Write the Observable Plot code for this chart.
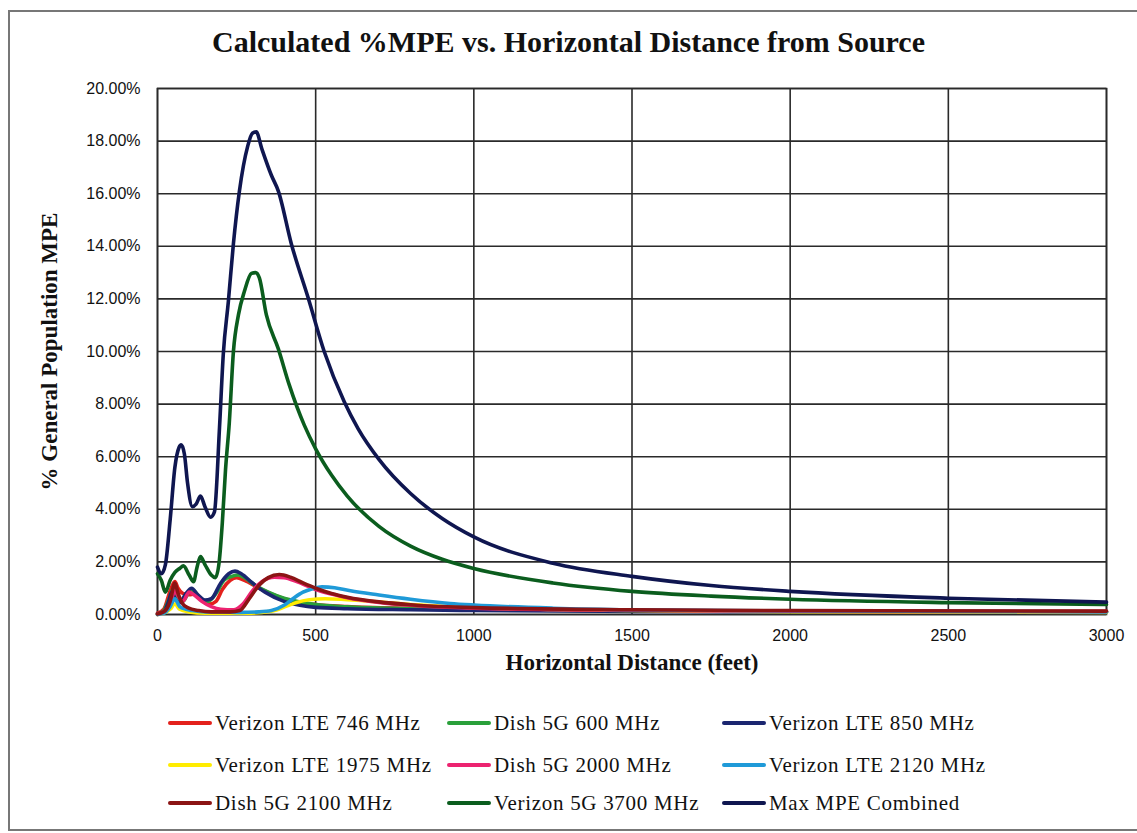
<!DOCTYPE html>
<html><head><meta charset="utf-8">
<script src="https://cdn.jsdelivr.net/npm/d3@7"></script>
<script src="https://cdn.jsdelivr.net/npm/@observablehq/plot@0.6"></script>
<style>
body{margin:0;background:#fff;}
#wrap{position:relative;width:1137px;height:833px;overflow:hidden;background:#fff;}
#border{position:absolute;left:8px;top:10px;width:1140px;height:817px;border-left:2px solid #777;border-top:2px solid #777;border-bottom:2px solid #777;}
#title{position:absolute;top:26px;left:0;width:1137px;text-align:center;font-family:"Liberation Serif",serif;font-weight:bold;font-size:30px;line-height:32px;color:#111;}
#chart{position:absolute;left:0;top:70px;}
.leg{position:absolute;display:flex;align-items:center;font-family:"Liberation Serif",serif;font-size:21px;letter-spacing:0.7px;line-height:24px;color:#111;white-space:nowrap;}
.sw{width:44px;height:4px;border-radius:2px;margin-right:3px;}
</style>
</head><body>
<div id="wrap">
<div id="border"></div>
<div id="title"></div>
<div id="chart"></div>
<div id="legend"></div>
</div>
<script>
const titleText = "Calculated %MPE vs. Horizontal Distance from Source";
const xLabel = "Horizontal Distance (feet)";
const yLabel = "% General Population MPE";
const xTicks = [0, 500, 1000, 1500, 2000, 2500, 3000];
const yTicks = [0, 2, 4, 6, 8, 10, 12, 14, 16, 18, 20];

const seriesNames = ["Verizon LTE 746 MHz","Dish 5G 600 MHz","Verizon LTE 850 MHz","Verizon LTE 1975 MHz","Dish 5G 2000 MHz","Verizon LTE 2120 MHz","Dish 5G 2100 MHz","Verizon 5G 3700 MHz","Max MPE Combined"];
const seriesColors = ["#e3211c","#2aa03a","#1b2670","#ffec00","#ec2370","#1f9ad8","#8b1414","#0b5d1e","#0f1650"];

// [distance ft, % MPE]
const verizon746 = [[0,0.05],[20,0.2],[40,0.9],[55,1.25],[65,1.0],[80,0.8],[100,0.75],[115,0.78],[140,0.55],[165,0.4],[185,0.5],[205,0.95],[230,1.3],[250,1.4],[275,1.3],[320,1.0],[360,0.78],[400,0.6],[450,0.46],[500,0.38],[600,0.3],[800,0.23],[1000,0.19],[1500,0.15],[2000,0.13],[3000,0.11]];
const dish600 = [[0,0.0],[20,0.15],[40,0.7],[50,1.0],[60,0.65],[80,0.5],[100,0.85],[115,0.9],[135,0.6],[160,0.5],[185,0.8],[210,1.3],[235,1.45],[255,1.5],[275,1.4],[310,1.1],[350,0.85],[400,0.62],[450,0.48],[500,0.38],[600,0.29],[800,0.22],[1000,0.18],[1500,0.14],[2000,0.12],[3000,0.1]];
const verizon850 = [[0,0.02],[20,0.1],[35,0.5],[45,0.85],[55,0.6],[70,0.45],[90,0.8],[108,1.0],[125,0.78],[150,0.55],[170,0.6],[200,1.2],[225,1.55],[245,1.65],[265,1.55],[300,1.2],[340,0.85],[400,0.5],[450,0.35],[500,0.27],[600,0.22],[800,0.18],[1000,0.15],[1500,0.12],[2000,0.1],[3000,0.08]];
const verizon1975 = [[0,0],[20,0.05],[40,0.2],[55,0.4],[70,0.2],[100,0.1],[150,0.05],[200,0.05],[280,0.05],[330,0.08],[370,0.15],[400,0.28],[440,0.46],[480,0.56],[530,0.6],[580,0.58],[650,0.52],[800,0.38],[1000,0.26],[1250,0.19],[1500,0.15],[2000,0.11],[3000,0.08]];
const dish2000 = [[0,0],[20,0.1],[40,0.4],[55,0.9],[65,0.7],[80,0.5],[100,0.85],[115,0.75],[140,0.5],[170,0.3],[200,0.2],[240,0.18],[270,0.4],[300,0.9],[330,1.25],[370,1.42],[400,1.4],[440,1.25],[480,1.05],[500,0.95],[550,0.78],[600,0.64],[700,0.46],[800,0.35],[1000,0.24],[1500,0.16],[2000,0.13],[3000,0.11]];
const verizon2120 = [[0,0],[20,0.05],[40,0.3],[55,0.6],[70,0.3],[90,0.2],[110,0.15],[150,0.1],[200,0.1],[260,0.08],[320,0.1],[360,0.15],[400,0.35],[430,0.62],[460,0.85],[490,0.98],[520,1.05],[560,1.02],[610,0.9],[700,0.74],[800,0.58],[925,0.42],[1000,0.36],[1250,0.24],[1500,0.18],[2000,0.14],[3000,0.1]];
const dish2100 = [[0,0.02],[20,0.1],[40,0.5],[55,1.2],[65,0.8],[80,0.4],[97,0.25],[130,0.15],[170,0.1],[200,0.1],[230,0.1],[260,0.15],[290,0.6],[320,1.1],[350,1.4],[385,1.52],[420,1.42],[460,1.2],[500,1.0],[550,0.8],[600,0.66],[700,0.48],[800,0.37],[1000,0.26],[1500,0.18],[2000,0.15],[3000,0.13]];
const verizon3700 = [[0,1.55],[12,1.3],[25,0.85],[40,1.3],[55,1.6],[70,1.75],[82,1.85],[100,1.5],[114,1.25],[125,1.8],[136,2.2],[150,1.9],[170,1.5],[183,1.4],[195,2.0],[205,3.5],[215,5.5],[227,7.3],[240,10.0],[256,11.4],[275,12.3],[297,12.97],[310,13.0],[322,12.8],[344,11.4],[382,10.1],[416,8.75],[464,7.2],[500,6.3],[550,5.3],[600,4.5],[700,3.35],[800,2.6],[900,2.1],[1000,1.75],[1250,1.2],[1500,0.88],[1750,0.7],[2000,0.58],[2500,0.45],[3000,0.38]];
const maxCombined = [[0,1.8],[12,1.55],[25,1.9],[40,3.6],[55,5.6],[68,6.35],[75,6.45],[85,6.1],[95,5.0],[110,4.1],[122,4.2],[136,4.5],[150,4.1],[168,3.7],[180,3.9],[196,7.1],[208,9.9],[224,11.9],[240,14.1],[259,16.1],[285,17.8],[300,18.3],[312,18.35],[330,17.7],[360,16.7],[382,16.1],[423,14.1],[476,12.05],[527,10.0],[590,8.1],[634,7.07],[700,5.9],[800,4.6],[900,3.65],[1000,2.95],[1250,1.95],[1500,1.45],[1750,1.1],[2000,0.88],[2500,0.62],[3000,0.47]];

const seriesData = [verizon746, dish600, verizon850, verizon1975, dish2000, verizon2120, dish2100, verizon3700, maxCombined];

document.getElementById("title").textContent = titleText;

const lineMarks = seriesData.map((pts, i) => Plot.line(pts, {
  x: d => d[0], y: d => d[1], stroke: seriesColors[i], strokeWidth: 3.6,
  curve: "monotone-x", strokeLinejoin: "round", strokeLinecap: "round"
}));

const chart = Plot.plot({
  width: 1137, height: 620,
  marginLeft: 157, marginRight: 31, marginTop: 18, marginBottom: 76,
  style: {fontFamily: "'Liberation Sans', Arial, sans-serif", fontSize: "16px", color: "#111", background: "transparent"},
  x: {domain: [0, 3000], ticks: xTicks, tickSize: 0, tickPadding: 15, label: null, tickFormat: d => String(d)},
  y: {domain: [0, 20], ticks: yTicks, tickSize: 0, tickPadding: 17, label: null, tickFormat: d => d.toFixed(2) + "%"},
  marks: [
    Plot.gridX(xTicks, {stroke: "#2a2a2a", strokeOpacity: 1, strokeWidth: 1.6}),
    Plot.gridY(yTicks, {stroke: "#2a2a2a", strokeOpacity: 1, strokeWidth: 1.6}),
    Plot.frame({stroke: "#2a2a2a", strokeWidth: 1.6}),
    ...lineMarks,
    Plot.text([yLabel], {text: d => d, frameAnchor: "left", textAnchor: "middle", rotate: -90, dx: -108, fontFamily: "'Liberation Serif', serif", fontWeight: "bold", fontSize: 23, letterSpacing: 0.5, fill: "#111"}),
    Plot.text([xLabel], {text: d => d, frameAnchor: "bottom", textAnchor: "middle", dy: 55, fontFamily: "'Liberation Serif', serif", fontWeight: "bold", fontSize: 23, letterSpacing: 0.6, fill: "#111"})
  ]
});
document.getElementById("chart").appendChild(chart);

const colLeft = [168, 447, 722];
const rowCenter = [723, 765, 803];
const leg = document.getElementById("legend");
seriesNames.forEach((name, i) => {
  const item = document.createElement("div");
  item.className = "leg";
  item.style.left = colLeft[i % 3] + "px";
  item.style.top = (rowCenter[Math.floor(i / 3)] - 12) + "px";
  const sw = document.createElement("div");
  sw.className = "sw";
  sw.style.background = seriesColors[i];
  const tx = document.createElement("span");
  tx.textContent = name;
  item.appendChild(sw); item.appendChild(tx);
  leg.appendChild(item);
});
</script>
</body></html>
